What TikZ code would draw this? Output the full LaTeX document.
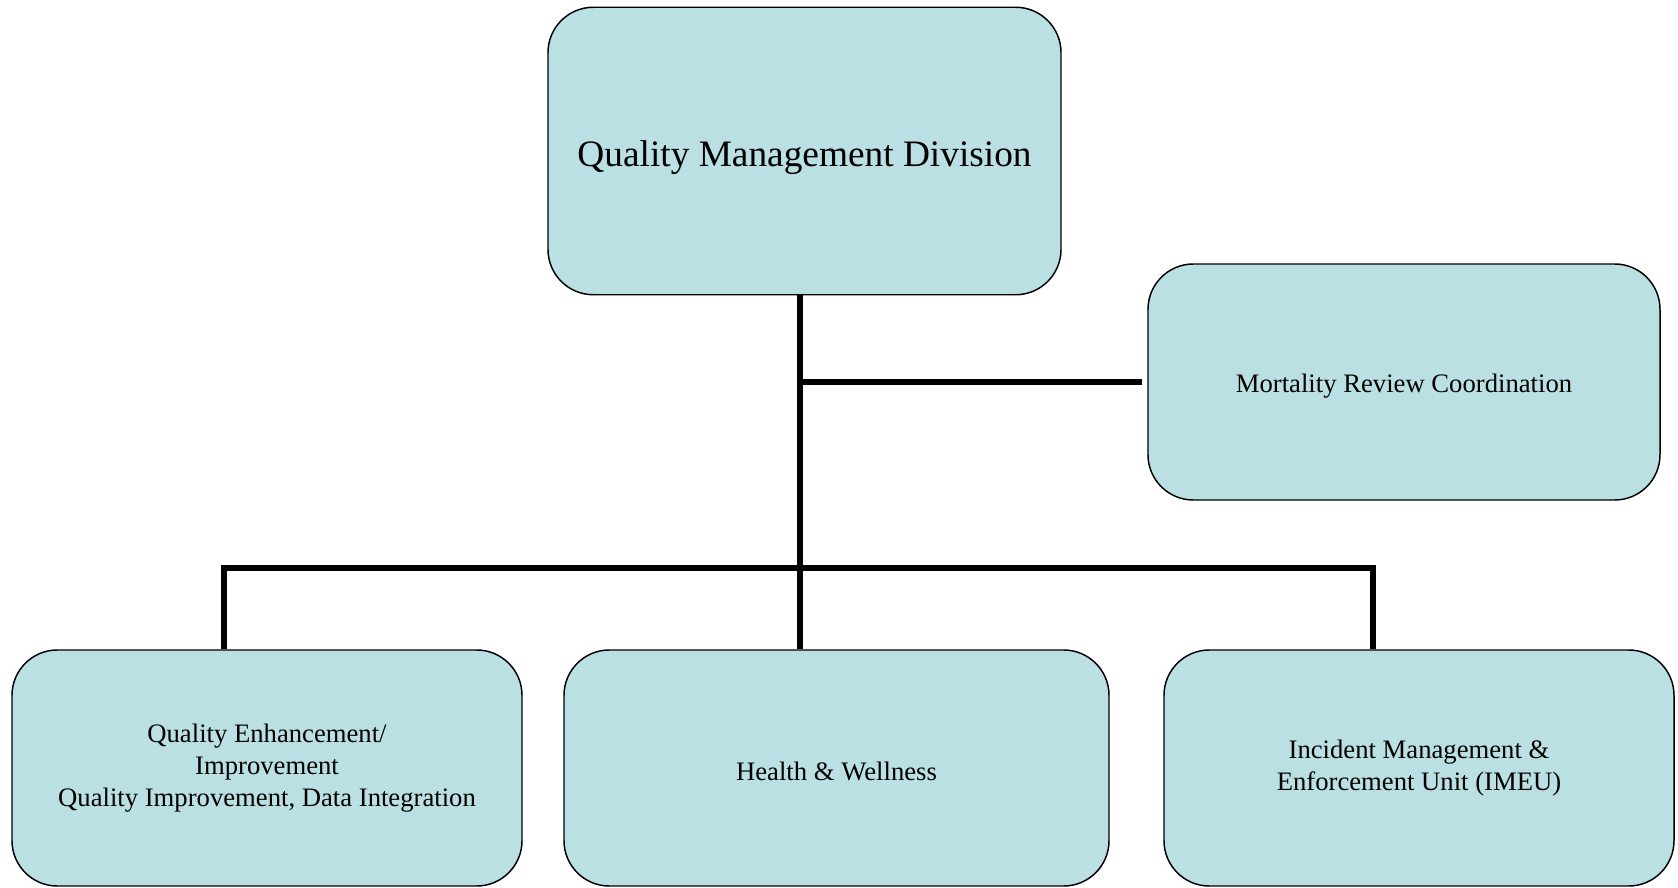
\documentclass[tikz,border=0pt]{standalone}
\usepackage{fontspec}
\setmainfont{Liberation Serif}
\usepackage{tikz}
\definecolor{boxfill}{RGB}{186,224,227}
\tikzset{
  unit/.style={draw, fill=boxfill, line width=1.1pt, rounded corners=34pt,
    align=center, minimum height=177pt, font=\fontsize{20}{24}\selectfont},
  oneline/.style={text height=19.5pt},
  link/.style={line width=4pt, line join=miter}
}

\begin{document}
\begin{tikzpicture}[x=0.75pt, y=-0.75pt]
 \useasboundingbox (0,0) rectangle (1678,888);

 \node[unit, minimum width=384.75pt, minimum height=215.6pt, text height=29pt,
   font=\fontsize{28}{34}\selectfont] (qmd) at (804.5,151) {Quality Management Division};
 \node[unit, oneline, minimum width=384pt] (mortality) at (1404,382) {Mortality Review Coordination};
 \node[unit, minimum width=382.5pt] (quality)   at (267,768)
   {Quality Enhancement/\\Improvement\\Quality Improvement, Data Integration};
 \node[unit, oneline, minimum width=408.75pt] (health)   at (836.5,768) {Health \& Wellness};
 \node[unit, minimum width=382.5pt] (incident)  at (1419,768)
   {Incident Management \&\\Enforcement Unit (IMEU)};

 \coordinate (bus)   at (800,568);
 \coordinate (left)  at (224,568);
 \coordinate (right) at (1373,568);

 \draw[link] (bus |- qmd.south) -- (bus |- health.north);
 \draw[link, shorten >=4pt] (bus |- mortality.west) -- (mortality.west);
 \draw[link] (left |- quality.north) -- (left) -- (right) -- (right |- incident.north);
\end{tikzpicture}
\end{document}
